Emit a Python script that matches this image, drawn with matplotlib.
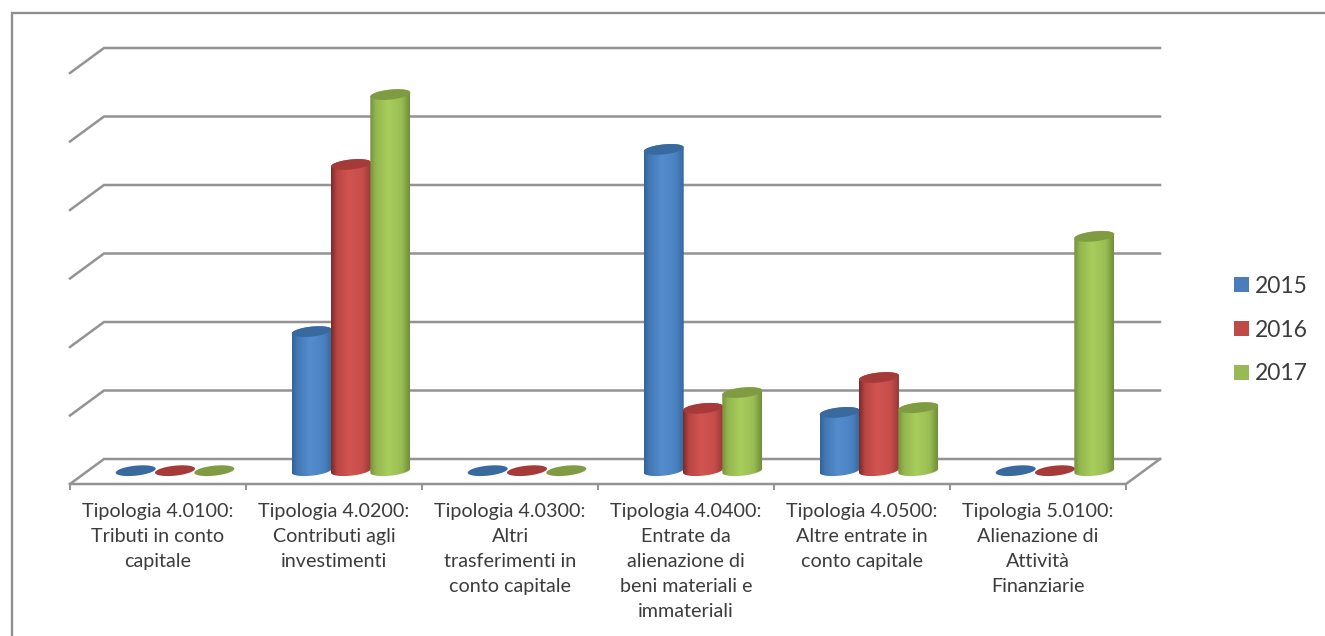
import numpy as np
import matplotlib
matplotlib.use("Agg")
import matplotlib.pyplot as plt
from matplotlib.lines import Line2D
from matplotlib.patches import Polygon, Patch
from matplotlib.colors import LinearSegmentedColormap

categories = [
    "Tipologia 4.0100:\nTributi in conto\ncapitale",
    "Tipologia 4.0200:\nContributi agli\ninvestimenti",
    "Tipologia 4.0300:\nAltri\ntrasferimenti in\nconto capitale",
    "Tipologia 4.0400:\nEntrate da\nalienazione di\nbeni materiali e\nimmateriali",
    "Tipologia 4.0500:\nAltre entrate in\nconto capitale",
    "Tipologia 5.0100:\nAlienazione di\nAttività\nFinanziarie",
]
series_names = ["2015", "2016", "2017"]
values_2015 = [0, 2.03, 0, 4.69, 0.85, 0]
values_2016 = [0, 4.47, 0, 0.91, 1.36, 0]
values_2017 = [0, 5.49, 0, 1.14, 0.92, 3.42]
grid_values = [0, 1, 2, 3, 4, 5, 6]

W, H = 1325, 636
PX_X, PX_Y = 176.0, 68.5      # pixels per category / per value unit
DX, DY = 34 / PX_X, 25 / PX_Y  # depth offset of the back wall
GRID = "#939393"
TEXT = "#3c3c3c"

styles = [
    dict(face="#4a7ebb", cap="#38699f",
         stops=[(0, "#33659c"), (0.12, "#4377b3"), (0.45, "#548cce"), (0.8, "#4b82c2"), (1, "#38699f")]),
    dict(face="#be4b48", cap="#a53a38",
         stops=[(0, "#7d2a28"), (0.14, "#b64542"), (0.45, "#d25451"), (0.8, "#c44e4b"), (1, "#9a3a37")]),
    dict(face="#98b954", cap="#7f9c42",
         stops=[(0, "#76933c"), (0.14, "#93b64f"), (0.45, "#a8cd5d"), (0.8, "#9abd53"), (1, "#728e3a")]),
]

plt.rcParams["font.family"] = ["Lato", "DejaVu Sans"]
fig = plt.figure(figsize=(W / 100, H / 100), dpi=100, facecolor="white")
ax = fig.add_axes([70 / W, (H - 484) / H, 6 * PX_X / W, 6 * PX_Y / H])
ax.set_xlim(0, 6)
ax.set_ylim(0, 6)
for s in ax.spines.values():
    s.set_visible(False)
ax.patch.set_visible(False)

# outer chart frame: only the top and left edges fall inside the picture
fig.add_artist(Line2D([12 / W, 12 / W, 1], [0, 1 - 13 / H, 1 - 13 / H], transform=fig.transFigure,
                      color="#8f8f8f", lw=1.7, solid_joinstyle="miter"))

# walls and floor
for g in grid_values:
    ax.plot([0, DX, 6 + DX], [g, g + DY, g + DY], color=GRID, lw=1.8, zorder=1,
            clip_on=False, solid_joinstyle="miter")
ax.plot([0, 6, 6 + DX], [0, 0, DY], color=GRID, lw=1.8, zorder=1, clip_on=False)

ax.set_xticks(range(7))
ax.set_xticklabels([])
ax.tick_params(axis="x", which="major", length=4.5, width=1.4, color=GRID)
ax.set_xticks(np.arange(6) + 0.5, categories, minor=True)
ax.tick_params(axis="x", which="minor", length=0, pad=13.5, labelsize=14.2, labelcolor=TEXT)
for lab in ax.get_xticklabels(minor=True):
    lab.set_linespacing(1.58)
    lab.set_ha("center")
ax.set_yticks([])

# cylinders
HALF_W = 20 / PX_X
HALF_H = 5 / PX_Y
TILT = 2.0 / PX_Y
STEP = 39.3 / PX_X


def ring(cx, cy, t):
    return cx + HALF_W * np.cos(t), cy + HALF_H * np.sin(t) + TILT * np.cos(t)


all_values = [values_2015, values_2016, values_2017]
for c in range(len(categories)):
    for s, vals in enumerate(all_values):
        st = styles[s]
        v = vals[c]
        cx = c + 0.5 + DX / 2 + (s - 1) * STEP
        cy0 = DY / 2 + 0.012
        z = 3 + s * 2
        if v > 0:
            x1, y1 = ring(cx, cy0, np.linspace(np.pi, 2 * np.pi, 40))
            x2, y2 = ring(cx, cy0 + v, np.linspace(0, np.pi, 40))
            body = Polygon(np.column_stack([np.r_[x1, x2], np.r_[y1, y2]]),
                           transform=ax.transData)
            cmap = LinearSegmentedColormap.from_list("c", st["stops"])
            im = ax.imshow(np.linspace(0, 1, 64)[None, :], cmap=cmap, aspect="auto",
                           extent=[cx - HALF_W, cx + HALF_W, cy0 - 0.2, cy0 + v + 0.2],
                           zorder=z, interpolation="bilinear")
            im.set_clip_path(body)
        tx, ty = ring(cx, cy0 + v, np.linspace(0, 2 * np.pi, 60))
        ax.fill(tx, ty, color=st["cap"], lw=0, zorder=z + 1)

ax.set_xlim(0, 6)
ax.set_ylim(0, 6)

handles = [Patch(facecolor=st["face"], edgecolor="none", label=n)
           for st, n in zip(styles, series_names)]
leg = fig.legend(handles=handles, loc="center left", bbox_to_anchor=(1216 / W, (H - 330) / H),
                 frameon=False, fontsize=16.5, labelspacing=1.0, handlelength=0.62,
                 handleheight=0.62, handletextpad=0.29, borderpad=0.3, labelcolor=TEXT)

fig.savefig("out.png", dpi=100)
